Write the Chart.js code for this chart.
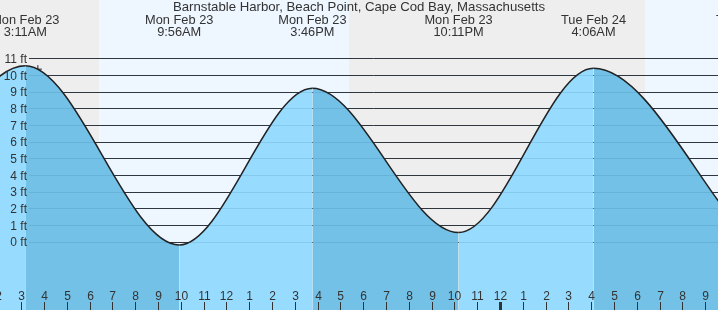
<!DOCTYPE html>
<html>
<head>
<meta charset="utf-8">
<script src="https://cdn.jsdelivr.net/npm/chart.js@4.4.1/dist/chart.umd.min.js"></script>
<style>
  html, body { margin: 0; padding: 0; background: #fff; }
  #holder { width: 718px; height: 310px; position: relative; }
</style>
</head>
<body>
<div id="holder"><canvas id="ctx"></canvas></div>
<script>
const title = 'Barnstable Harbor, Beach Point, Cape Cod Bay, Massachusetts';

// hours counted from Mon Feb 23 00:00
const tideHours = [-3.0, 3.18, 9.93, 15.77, 22.18, 28.1, 34.9];
const tideHeights = [0.3, 10.55, -0.2, 9.2, 0.55, 10.4, 0.1];
const tideDates = ['Sun Feb 22', 'Mon Feb 23', 'Mon Feb 23', 'Mon Feb 23', 'Mon Feb 23', 'Tue Feb 24', 'Tue Feb 24'];
const tideTimes = ['9:00PM', '3:11AM', '9:56AM', '3:46PM', '10:11PM', '4:06AM', '10:54AM'];

// sunrise, sunset, sunrise
const sunHours = [6.42, 17.38, 30.37];

const nowHour = 3.73;
const nowHeight = 10.35;

const ftTicks = [0, 1, 2, 3, 4, 5, 6, 7, 8, 9, 10, 11];
const hourTicks = [2, 3, 4, 5, 6, 7, 8, 9, 10, 11, 12, 13, 14, 15, 16, 17, 18, 19, 20, 21, 22, 23, 24, 25, 26, 27, 28, 29, 30, 31, 32, 33];
const hourLabels = ['2', '3', '4', '5', '6', '7', '8', '9', '10', '11', '12', '1', '2', '3', '4', '5', '6', '7', '8', '9', '10', '11', '12', '1', '2', '3', '4', '5', '6', '7', '8', '9'];

const rising = '#97dcfe';
const falling = '#73c1e6';
const ink = '#333';
const font = '"Liberation Sans", Arial, sans-serif';

const tidePlugin = {
  id: 'tide',
  beforeDatasetsDraw(chart) {
    const c = chart.ctx;
    const x = chart.scales.x;
    const y = chart.scales.y;
    const {left, right, top, bottom} = chart.chartArea;
    let edges = [left].concat(sunHours.map(h => x.getPixelForValue(h)), [right]);
    c.save();
    for (let i = 0; i < edges.length - 1; i++) {
      c.fillStyle = (i % 2 == 0) ? '#eeeeee' : '#eef6ff';
      c.fillRect(edges[i], top, edges[i + 1] - edges[i], bottom - top);
    }
    c.strokeStyle = ink;
    c.lineWidth = 1;
    ftTicks.forEach(v => {
      const py = Math.round(y.getPixelForValue(v)) + 0.5;
      c.beginPath();
      c.moveTo(29, py);
      c.lineTo(right, py);
      c.stroke();
    });
    c.restore();
  },
  afterDatasetsDraw(chart) {
    const c = chart.ctx;
    const x = chart.scales.x;
    const y = chart.scales.y;
    const {right} = chart.chartArea;
    c.save();
    // lines seen through the water
    c.strokeStyle = 'rgba(20, 80, 130, 0.13)';
    c.lineWidth = 1;
    ftTicks.forEach(v => {
      const py = Math.round(y.getPixelForValue(v)) + 0.5;
      c.beginPath();
      c.moveTo(29, py);
      c.lineTo(right, py);
      c.stroke();
    });

    c.fillStyle = ink;
    c.font = '12px ' + font;
    c.textAlign = 'right';
    c.textBaseline = 'alphabetic';
    ftTicks.forEach(v => {
      const py = y.getPixelForValue(v);
      c.fillText(v + ' ft', 27, py + 4.5);
    });

    c.textAlign = 'center';
    hourTicks.forEach((h, i) => {
      const px = Math.round(x.getPixelForValue(h));
      if (h == 24) {
        c.fillRect(px - 1, 302, 3, 8);
      } else {
        c.fillRect(px, 302, 1, 8);
      }
      c.fillText(hourLabels[i], px + 0.5, 299.5);
    });

    c.font = '13.2px ' + font;
    c.fillText(title, 359, 11);
    c.font = '12.8px ' + font;
    tideHours.forEach((h, i) => {
      const px = x.getPixelForValue(h);
      c.fillText(tideDates[i], px, 24);
      c.fillText(tideTimes[i], px, 36);
    });
    c.restore();
  }
};

const chart = new Chart(document.getElementById('ctx'), {
  type: 'line',
  data: {
    datasets: [{
      data: tideHours.map((h, i) => ({x: h, y: tideHeights[i]})),
      borderColor: '#222',
      borderWidth: 1.5,
      backgroundColor: falling,
      pointRadius: 0,
      fill: 'start',
      cubicInterpolationMode: 'monotone',
      capBezierPoints: false,
      segment: {
        backgroundColor: s => s.p1.parsed.y > s.p0.parsed.y ? rising : falling
      }
    }, {
      data: [{x: nowHour, y: nowHeight}],
      showLine: false,
      fill: false,
      pointStyle: 'cross',
      pointRadius: 4,
      borderColor: '#222',
      borderWidth: 1
    }]
  },
  options: {
    responsive: true,
    maintainAspectRatio: false,
    animation: false,
    layout: { padding: 0, autoPadding: false },
    plugins: {
      legend: { display: false },
      tooltip: { enabled: false }
    },
    scales: {
      x: { type: 'linear', display: false, min: 2.07, max: 33.56 },
      y: { display: false, min: -4.1, max: 14.5 }
    }
  },
  plugins: [tidePlugin]
});
</script>
</body>
</html>
